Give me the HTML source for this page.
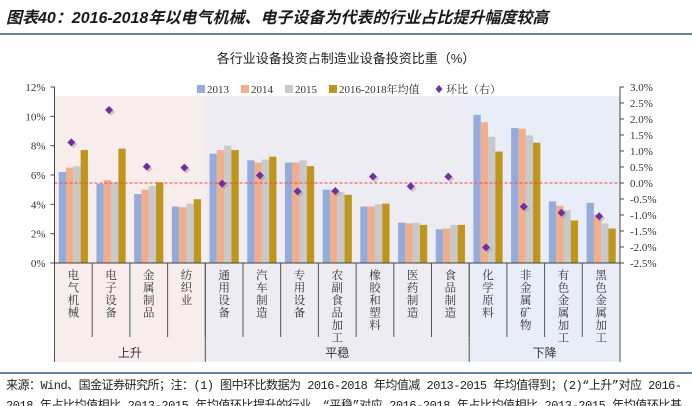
<!DOCTYPE html>
<html><head><meta charset="utf-8">
<style>
body{margin:0;background:#fff;width:692px;height:406px;overflow:hidden;font-family:"Liberation Serif","Noto Serif CJK SC",serif;}
svg{display:block}
</style></head>
<body>
<svg width="692" height="406" id="svg">
<text x="6" y="23" font-size="16" font-weight="bold" font-style="italic" fill="#1a1a1a" font-family="Liberation Sans,Noto Sans CJK SC,sans-serif">图表40：2016-2018年以电气机械、电子设备为代表的行业占比提升幅度较高</text>
<line x1="0" y1="34" x2="692" y2="34" stroke="#2f5d7c" stroke-width="1.5"/>
<text x="346" y="63" font-size="13" text-anchor="middle" fill="#222" font-family="Liberation Sans,Noto Sans CJK SC,sans-serif">各行业设备投资占制造业设备投资比重（%）</text>
<g id="plot"></g>
<line x1="0" y1="373" x2="692" y2="373" stroke="#2f5d7c" stroke-width="1.5"/>
<text x="6" y="389" font-size="12" fill="#222" font-family="Liberation Mono,Noto Sans CJK SC,monospace" textLength="676">来源：Wind、国金证券研究所；注：(1) 图中环比数据为 2016-2018 年均值减 2013-2015 年均值得到；(2)“上升”对应 2016-</text>
<text x="6" y="409" font-size="12" fill="#222" font-family="Liberation Mono,Noto Sans CJK SC,monospace" textLength="676">2018 年占比均值相比 2013-2015 年均值环比提升的行业，“平稳”对应 2016-2018 年占比均值相比 2013-2015 年均值环比基</text>
</svg>
<script>
const categories=["电气机械","电子设备","金属制品","纺织业","通用设备","汽车制造","专用设备","农副食品加工","橡胶和塑料","医药制造","食品制造","化学原料","非金属矿物","有色金属加工","黑色金属加工"];
const s2013=[6.2,5.4,4.7,3.85,7.45,7.0,6.85,5.0,3.85,2.75,2.3,10.1,9.2,4.2,4.1];
const s2014=[6.5,5.65,5.0,3.8,7.7,6.85,6.85,4.95,3.85,2.7,2.35,9.6,9.15,3.9,3.3];
const s2015=[6.6,5.5,5.25,4.05,8.0,7.05,7.0,4.85,4.0,2.75,2.6,8.6,8.7,3.6,2.7];
const sAvg=[7.7,7.8,5.5,4.35,7.7,7.25,6.6,4.65,4.05,2.6,2.6,7.6,8.2,2.9,2.35];
const hb=[1.27,2.28,0.51,0.48,-0.02,0.24,-0.26,-0.25,0.2,-0.1,0.2,-2.01,-0.74,-0.93,-1.04];
const leftTicks=[0,2,4,6,8,10,12];
const rightTicks=[3.0,2.5,2.0,1.5,1.0,0.5,0.0,-0.5,-1.0,-1.5,-2.0,-2.5];
const groups=[{name:"上升",n:4,fill:"#f7eded"},{name:"平稳",n:7,fill:"#eeecf3"},{name:"下降",n:4,fill:"#e9edf8"}];
const seriesNames=["2013","2014","2015","2016-2018年均值"];
const colors=["#95abd9","#f0ae8c","#c9c9cc","#bf961c"];

const X0=54.5,X1=620,Y0=263,Y1=87;
const cw=(X1-X0)/categories.length;
const yL=v=>Y0-(v-0)/(12-0)*(Y0-Y1);
const yR=v=>Y0-(v+2.5)/(5.5)*(Y0-Y1);
const xC=i=>X0+i*cw;
const NS="http://www.w3.org/2000/svg";
const g=document.getElementById('plot');
function mk(t,a,p){const e=document.createElementNS(NS,t);for(const k in a)e.setAttribute(k,a[k]);(p||g).appendChild(e);return e;}

let ci=0;
groups.forEach((gr,gi)=>{
 const r=mk('rect',{x:xC(ci),y:96,width:gr.n*cw,height:266,fill:gr.fill});
 
 
 const t=mk('text',{x:xC(ci)+gr.n*cw/2,y:357,'font-size':12,'text-anchor':'middle',fill:'#333','font-family':'Liberation Sans,Noto Sans CJK SC,sans-serif'});
 t.textContent=gr.name;
 
 
 const l=mk('line',{x1:xC(ci),y1:263,x2:xC(ci),y2:362,stroke:'#555','stroke-width':1});
 
 
 ci+=gr.n;
});
const le=mk('line',{x1:X1,y1:263,x2:X1,y2:362,stroke:'#555'});


for(let i=1;i<categories.length;i++){
 const l=mk('line',{x1:xC(i),y1:263,x2:xC(i),y2:337,stroke:'#555','stroke-width':1});
 
 
}
const all=[s2013,s2014,s2015,sAvg];
const bw=7.3;
categories.forEach((c,i)=>{
 const start=xC(i)+cw/2-bw*2;
 all.forEach((s,k)=>{
  const y=yL(s[i]);
  const r=mk('rect',{x:start+k*bw,y:y,width:bw,height:Y0-y,fill:colors[k]});
  
  
 });
 const lab=mk('text',{'font-size':11.5,fill:'#333','text-anchor':'middle','font-family':'Noto Serif CJK SC,serif'});
 
 
 [...c].forEach((ch,j)=>{const ts=mk('tspan',{x:xC(i)+cw/2,y:279+j*12.5},lab);ts.textContent=ch;});
});
const zl=mk('line',{x1:X0,y1:yR(0),x2:X1,y2:yR(0),stroke:'#ff4040','stroke-width':1,'stroke-dasharray':'3,2'});


hb.forEach((v,i)=>{
 const cx=xC(i)+cw/2-2,cy=yR(v);
 const sh=mk('path',{d:`M${cx+2} ${cy-2}l4 4l-4 4l-4 -4z`,fill:'#999',opacity:0.45});
 
 
 const m=mk('path',{d:`M${cx} ${cy-4}l4 4l-4 4l-4 -4z`,fill:'#7030a0'});
 
 
});
const ax=mk('line',{x1:X0,y1:Y1,x2:X0,y2:Y0,stroke:'#444'});


const ax2=mk('line',{x1:X1,y1:Y1,x2:X1,y2:Y0,stroke:'#444'});


const ax3=mk('line',{x1:X0,y1:Y0,x2:X1,y2:Y0,stroke:'#444'});


leftTicks.forEach(v=>{
 const y=yL(v);
 const tk=mk('line',{x1:X0-4,y1:y,x2:X0,y2:y,stroke:'#444'});
 
 
 const t=mk('text',{x:X0-9,y:y+4,'font-size':11,'text-anchor':'end',fill:'#333'});
 t.textContent=v+'%';
 
 
});
rightTicks.forEach(v=>{
 const y=yR(v);
 const tk=mk('line',{x1:X1,y1:y,x2:X1+4,y2:y,stroke:'#444'});
 
 
 const t=mk('text',{x:X1+10,y:y+4,'font-size':11,fill:'#333'});
 t.textContent=v.toFixed(1)+'%';
 
 
});
const lx=[197,241,285,329];
seriesNames.forEach((n,k)=>{
 const r=mk('rect',{x:lx[k],y:85,width:8,height:8,fill:colors[k]});
 
 
 const t=mk('text',{x:lx[k]+10,y:93,'font-size':11,fill:'#333','font-family':'Liberation Serif,Noto Serif CJK SC,serif'});
 t.textContent=n;
 
 
});
const lm=mk('path',{d:'M439 85l3.5 4l-3.5 4l-3.5 -4z',fill:'#7030a0'});


const lt=mk('text',{x:446,y:93,'font-size':11,fill:'#333','font-family':'Noto Serif CJK SC,serif'});
lt.textContent='环比（右）';


</script>
</body></html>
